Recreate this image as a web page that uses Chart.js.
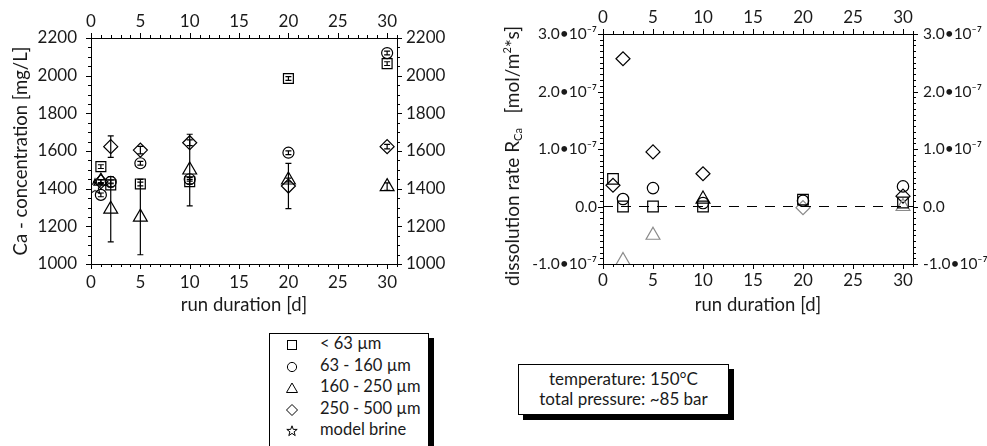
<!DOCTYPE html>
<html>
<head>
<meta charset="utf-8">
<script src="https://cdn.jsdelivr.net/npm/chart.js@4.4.0/dist/chart.umd.min.js"></script>
<style>
  body { margin: 0; background: #fff; width: 987px; height: 446px; overflow: hidden; position: relative; font-family: Lato, sans-serif; color: #1a1a1a; }
  canvas { position: absolute; top: 0; }
  #caChart { left: 0; }
  #rateChart { left: 490px; }
  .box { position: absolute; border: 1px solid #000; background: #fff; box-shadow: 5px 5px 0 #000; box-sizing: border-box; }
  #legend { left: 269px; top: 333px; width: 160px; height: 120px; font-size: 16.5px; }
  #legend .row { height: 21.6px; line-height: 21.6px; position: relative; white-space: nowrap; }
  #legend svg { position: absolute; left: 16px; top: 5px; }
  #legend .txt { position: absolute; left: 50px; top: -1px; }
  #note { left: 518px; top: 364px; width: 211px; height: 51px; font-size: 17px; text-align: center; line-height: 20px; padding-top: 4px; }
  #rateTitle { position: absolute; left: 512px; top: 156px; transform: translate(-50%, -50%) rotate(-90deg); white-space: nowrap; font-size: 19px; }
  #rateTitle sub { font-size: 11px; vertical-align: -3px; }
  #rateTitle sup { font-size: 11px; vertical-align: 8px; }
</style>
</head>
<body>
<canvas id="caChart" width="480" height="316"></canvas>
<canvas id="rateChart" width="497" height="316"></canvas>
<div id="rateTitle">dissolution rate R<sub>Ca</sub>&nbsp;&nbsp;&nbsp;[mol/m<sup>2</sup>*s]</div>

<div class="box" id="legend">
  <div class="row"><svg width="12" height="12"><rect x="1.5" y="1.5" width="9" height="9" fill="none" stroke="#000"/></svg><span class="txt">&lt; 63 µm</span></div>
  <div class="row"><svg width="12" height="12"><circle cx="6" cy="6" r="4.6" fill="none" stroke="#000"/></svg><span class="txt">63 - 160 µm</span></div>
  <div class="row"><svg width="12" height="12"><polygon points="6,1 11.5,10.5 0.5,10.5" fill="none" stroke="#000"/></svg><span class="txt">160 - 250 µm</span></div>
  <div class="row"><svg width="12" height="12"><polygon points="6,0.5 11.5,6 6,11.5 0.5,6" fill="none" stroke="#000"/></svg><span class="txt">250 - 500 µm</span></div>
  <div class="row"><svg width="12" height="12"><polygon points="6,0.8 7.3,4.4 11.2,4.4 8.1,6.8 9.2,10.6 6,8.4 2.8,10.6 3.9,6.8 0.8,4.4 4.7,4.4" fill="none" stroke="#000"/></svg><span class="txt">model brine</span></div>
</div>
<div class="box" id="note">temperature: 150°C<br>total pressure: ~85 bar</div>

<script>
// run durations [d]
const days = [1, 2, 5, 10, 20, 30];
const brineDay = [0.4];
const brineCa = [1415];

// Ca concentration [mg/L] per grain size, with error
const caLt63 = [1517, 1420, 1425, 1437, 1985, 2064];
const caLt63Err = [10, 10, 10, 12, 10, 10];
const ca63to160 = [1367, 1436, 1535, 1450, 1591, 2120];
const ca63to160Err = [10, 10, 10, 10, 10, 10];
const ca160to250 = [1440, 1291, 1249, 1499, 1446, 1411];
const ca160to250Err = [8, 173, 200, 190, 10, 20];
const ca250to500 = [1437, 1623, 1605, 1644, 1414, 1623];
const ca250to500Err = [10, 57, 20, 15, 120, 12];

// dissolution rate R_Ca [mol/m2*s]
const rateLt63 = [0.48e-7, 0, 0, 0, 0.12e-7, 0.07e-7];
const rate63to160 = [null, 0.13e-7, 0.32e-7, 0.06e-7, 0.10e-7, 0.35e-7];
const rate160to250 = [null, -0.94e-7, -0.50e-7, 0.13e-7, null, 0];
const rate250to500 = [0.37e-7, 2.57e-7, 0.95e-7, 0.57e-7, -0.02e-7, 0.18e-7];
// points shown in grey in the rate plot (indices into days)
const greyTriangles = [1, 2, 5];
const greyDiamonds = [4];

// tick labels
const dayTicks = [0, 5, 10, 15, 20, 25, 30];
const caTicks = [1000, 1200, 1400, 1600, 1800, 2000, 2200];
const rateTicks = [-1e-7, 0, 1e-7, 2e-7, 3e-7];

const ink = '#1a1a1a';
const tickFont = { family: 'Lato', size: 17 };
const rateFont = { family: 'Lato', size: 15.5 };
const titleFont = { family: 'Lato', size: 18.5 };

function starImage(r) {
  const size = Math.ceil(r * 2 + 4);
  const c = document.createElement('canvas');
  c.width = c.height = size;
  const g = c.getContext('2d');
  g.translate(size / 2, size / 2 + 1);
  g.beginPath();
  for (let i = 0; i < 10; i++) {
    const rr = i % 2 ? r * 0.45 : r;
    const a = -Math.PI / 2 + i * Math.PI / 5;
    g.lineTo(Math.cos(a) * rr, Math.sin(a) * rr);
  }
  g.closePath();
  g.lineWidth = 1.2;
  g.strokeStyle = '#000';
  g.stroke();
  return c;
}

function points(xs, ys) {
  return xs.map((d, i) => ({ x: d, y: ys[i] }));
}

function series(label, values, style, radius, errors) {
  return {
    label,
    data: points(days, values),
    pointStyle: style,
    pointRadius: radius,
    pointHoverRadius: radius,
    pointBorderColor: '#000',
    pointBackgroundColor: 'rgba(0,0,0,0)',
    pointBorderWidth: 1.2,
    showLine: false,
    errors
  };
}

// vertical error bars drawn behind the markers
const errorBars = {
  id: 'errorBars',
  beforeDatasetsDraw(chart) {
    const ctx = chart.ctx;
    const y = chart.scales.y;
    ctx.save();
    ctx.strokeStyle = '#000';
    ctx.lineWidth = 1.2;
    chart.data.datasets.forEach((ds, i) => {
      if (!ds.errors) return;
      chart.getDatasetMeta(i).data.forEach((pt, j) => {
        const v = ds.data[j].y, e = ds.errors[j];
        if (v == null || !e) return;
        const top = y.getPixelForValue(v + e), bot = y.getPixelForValue(v - e);
        ctx.beginPath();
        ctx.moveTo(pt.x, top); ctx.lineTo(pt.x, bot);
        ctx.moveTo(pt.x - 3, top); ctx.lineTo(pt.x + 3, top);
        ctx.moveTo(pt.x - 3, bot); ctx.lineTo(pt.x + 3, bot);
        ctx.stroke();
      });
    });
    ctx.restore();
  }
};

// outward major + minor tick marks on every side of the frame
const outTicks = {
  id: 'outTicks',
  afterDraw(chart, args, opts) {
    const ctx = chart.ctx;
    const area = chart.chartArea;
    ctx.save();
    ctx.strokeStyle = '#000';
    ctx.lineWidth = 1;
    Object.keys(opts.steps).forEach(id => {
      const s = chart.scales[id];
      const [minor, major] = opts.steps[id];
      const n = Math.round((s.max - s.min) / minor);
      ctx.beginPath();
      for (let i = 0; i <= n; i++) {
        const v = s.min + i * minor;
        const q = v / major;
        const len = Math.abs(q - Math.round(q)) < 1e-6 ? 5 : 3;
        const p = Math.round(s.getPixelForValue(v)) + 0.5;
        if (s.position === 'bottom') { ctx.moveTo(p, area.bottom); ctx.lineTo(p, area.bottom + len); }
        if (s.position === 'top') { ctx.moveTo(p, area.top); ctx.lineTo(p, area.top - len); }
        if (s.position === 'left') { ctx.moveTo(area.left, p); ctx.lineTo(area.left - len, p); }
        if (s.position === 'right') { ctx.moveTo(area.right, p); ctx.lineTo(area.right + len, p); }
      }
      ctx.stroke();
    });
    ctx.restore();
  }
};

function axis(position, values, fit, pad, label, extra, format, font) {
  const horizontal = position === 'top' || position === 'bottom';
  return Object.assign({
    type: 'linear',
    position,
    grid: { display: false, drawTicks: false },
    border: { display: true, color: '#000', width: 1 },
    ticks: { color: ink, font: font || tickFont, padding: pad, maxRotation: 0, callback: format || (v => String(v)) },
    title: label ? { display: true, text: label, color: ink, font: titleFont, padding: 0 } : { display: false },
    afterBuildTicks: s => { s.ticks = values.map(v => ({ value: v })); },
    afterFit: s => { if (horizontal) s.height = fit; else s.width = fit; }
  }, extra);
}

function rateLabel(v) {
  const m = Math.round(v / 1e-8) / 10;
  if (m === 0) return '0.0';
  return m.toFixed(1) + '\u202210\u207B\u2077';
}

const baseOptions = {
  responsive: false,
  animation: false,
  events: [],
  plugins: { legend: { display: false }, tooltip: { enabled: false } }
};

new Chart(document.getElementById('caChart'), {
  type: 'scatter',
  data: {
    datasets: [
      {
        label: 'model brine',
        data: points(brineDay, brineCa),
        pointStyle: starImage(8),
        pointRadius: 8,
        showLine: false
      },
      series('< 63 µm', caLt63, 'rect', 7, caLt63Err),
      series('63 - 160 µm', ca63to160, 'circle', 5.5, ca63to160Err),
      series('160 - 250 µm', ca160to250, 'triangle', 8, ca160to250Err),
      series('250 - 500 µm', ca250to500, 'rectRot', 7, ca250to500Err)
    ]
  },
  options: Object.assign({}, baseOptions, {
    layout: { padding: { left: 10 } },
    plugins: Object.assign({}, baseOptions.plugins, {
      outTicks: { steps: { x: [1, 5], x2: [1, 5], y: [50, 200], y2: [50, 200] } }
    }),
    scales: {
      x: axis('bottom', dayTicks, 52, 8, 'run duration [d]', { min: 0, max: 31 }),
      x2: axis('top', dayTicks, 38, 6, null, { min: 0, max: 31 }),
      y: axis('left', caTicks, 81, 14, 'Ca - concentration [mg/L]', { min: 1000, max: 2200 }),
      y2: axis('right', caTicks, 83, 9, null, { min: 1000, max: 2200 })
    }
  }),
  plugins: [errorBars, outTicks]
});

const greyAt = list => ctx => list.includes(ctx.dataIndex) ? '#8a8a8a' : '#000';

const rateSeries = [
  series('< 63 µm', rateLt63, 'rect', 7.5),
  series('63 - 160 µm', rate63to160, 'circle', 5.7),
  series('160 - 250 µm', rate160to250, 'triangle', 8),
  series('250 - 500 µm', rate250to500, 'rectRot', 7)
];
rateSeries[2].pointBorderColor = greyAt(greyTriangles);
rateSeries[3].pointBorderColor = greyAt(greyDiamonds);

new Chart(document.getElementById('rateChart'), {
  type: 'scatter',
  data: {
    datasets: [
      {
        label: 'zero',
        data: points([0, 31], [0, 0]),
        showLine: true,
        borderColor: '#000',
        borderWidth: 1.2,
        borderDash: [10, 8],
        pointRadius: 0
      }
    ].concat(rateSeries)
  },
  options: Object.assign({}, baseOptions, {
    plugins: Object.assign({}, baseOptions.plugins, {
      outTicks: { steps: { x: [1, 5], x2: [1, 5], y: [1e-8, 1e-7], y2: [1e-8, 1e-7] } }
    }),
    scales: {
      x: axis('bottom', dayTicks, 52, 6, 'run duration [d]', { min: 0, max: 31 }),
      x2: axis('top', dayTicks, 34, 6, null, { min: 0, max: 31 }),
      y: axis('left', rateTicks, 113, 6, null, { min: -1e-7, max: 3e-7 }, rateLabel, rateFont),
      y2: axis('right', rateTicks, 74, 10, null, { min: -1e-7, max: 3e-7 }, rateLabel, rateFont)
    }
  }),
  plugins: [outTicks]
});
</script>
</body>
</html>
